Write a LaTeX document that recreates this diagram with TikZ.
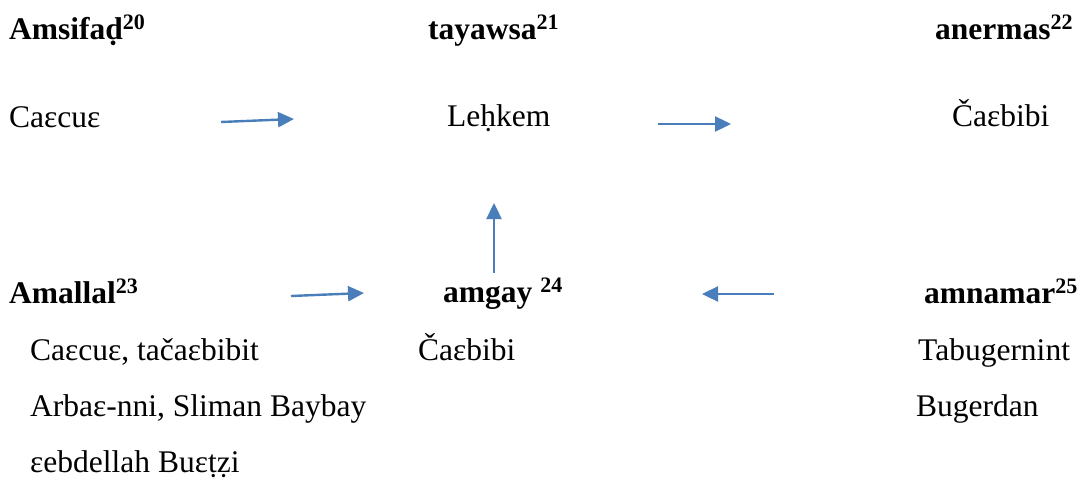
\documentclass[tikz,border=0pt]{standalone}
\usepackage{fontspec}
\setmainfont{Liberation Serif}
\usetikzlibrary{arrows.meta}

\definecolor{arrowblue}{RGB}{74,126,187}

\tikzset{
  word/.style={anchor=base west, inner sep=0pt, font=\fontsize{31.5}{38}\selectfont},
  head/.style={word, font=\fontsize{31.5}{38}\selectfont\bfseries},
  flow/.style={draw=arrowblue, line width=2.4pt, -{Triangle[length=16pt,width=15pt]}}
}

\begin{document}
\begin{tikzpicture}[x=1pt,y=-1pt]
\useasboundingbox (0,0) rectangle (1081,479);

% headings of the upper row
\node[head] (amsifad) at (9,39) {Amsifaḍ\textsuperscript{20}};
\node[head] (tayawsa) at (428,39) {tayawsa\textsuperscript{21}};
\node[head] (anermas) at (935,39) {anermas\textsuperscript{22}};

\node[word] (caecue) at (9,127) {Caɛcuɛ};
\node[word] (lehkem) at (447,126) {Leḥkem};
\node[word] (caebibi) at (952,126) {Čaɛbibi};

% headings of the lower row
\node[head] (amallal) at (9,303) {Amallal\textsuperscript{23}};
\node[head] (amgay) at (443,302) {amgay \textsuperscript{24}};
\node[head] (amnamar) at (924,303) {amnamar\textsuperscript{25}};

\node[word] (amallal1) at (30,360) {Caɛcuɛ, tačaɛbibit};
\node[word] (amallal2) at (30,416) {Arbaɛ-nni, Sliman Baybay};
\node[word] (amallal3) at (30,472) {ɛebdellah Buɛṭẓi};
\node[word] (amgay1) at (418,360) {Čaɛbibi};
\node[word] (amnamar1) at (918,360) {Tabugernint};
\node[word] (amnamar2) at (916,416) {Bugerdan};

% arrow ends
\coordinate (a1) at (221,122);
\coordinate (b1) at (294,119);
\coordinate (a2) at (658,124);
\coordinate (b2) at (731,124);
\coordinate (a3) at (494,273);
\coordinate (b3) at (494,203);
\coordinate (a4) at (291,296);
\coordinate (b4) at (364,293);
\coordinate (a5) at (774,294);
\coordinate (b5) at (702,294);

\draw[flow] (a1) -- (b1);
\draw[flow] (a2) -- (b2);
\draw[flow] (a3) -- (b3);
\draw[flow] (a4) -- (b4);
\draw[flow] (a5) -- (b5);
\end{tikzpicture}
\end{document}
